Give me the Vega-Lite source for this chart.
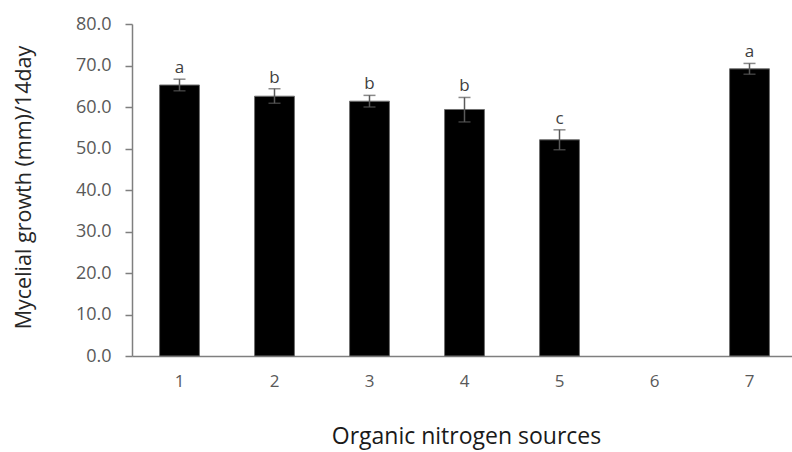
{
  "$schema": "https://vega.github.io/schema/vega-lite/v6.json",
  "autosize": {"type": "none"},
  "padding": {"left": 132, "top": 24, "right": 0, "bottom": 96},
  "width": 660,
  "height": 332,
  "background": "white",
  "config": {
    "view": {"stroke": null},
    "font": "Open Sans"
  },
  "data": {
    "values": [
      {"source": "1", "mean": 65.3, "lo": 63.9, "hi": 66.7, "letter": "a"},
      {"source": "2", "mean": 62.6, "lo": 60.9, "hi": 64.4, "letter": "b"},
      {"source": "3", "mean": 61.4, "lo": 60.0, "hi": 62.8, "letter": "b"},
      {"source": "4", "mean": 59.4, "lo": 56.4, "hi": 62.3, "letter": "b"},
      {"source": "5", "mean": 52.1, "lo": 49.7, "hi": 54.5, "letter": "c"},
      {"source": "6", "mean": 0, "lo": null, "hi": null, "letter": ""},
      {"source": "7", "mean": 69.2, "lo": 67.9, "hi": 70.5, "letter": "a"}
    ]
  },
  "encoding": {
    "x": {
      "field": "source",
      "type": "ordinal",
      "sort": null,
      "scale": {"domain": ["1", "2", "3", "4", "5", "6", "7"], "range": [0, 665], "paddingInner": 0.58, "paddingOuter": 0.29},
      "axis": {
        "title": "Organic nitrogen sources",
        "titleFont": "Open Sans",
        "titleFontSize": 23,
        "titleFontWeight": "normal",
        "titleColor": "#1a1a1a",
        "titleX": 334,
        "titleY": 87,
        "titleAlign": "center",
        "titleBaseline": "alphabetic",
        "labelAngle": 0,
        "labelFontSize": 17,
        "labelColor": "#595959",
        "labelPadding": 17,
        "ticks": false,
        "domainColor": "#7f7f7f",
        "domainWidth": 1.5
      }
    }
  },
  "layer": [
    {
      "transform": [{"filter": "datum.mean > 0"}],
      "mark": {"type": "bar", "color": "#000000", "stroke": "#6f6f6f", "strokeWidth": 1},
      "encoding": {
        "y": {
          "field": "mean",
          "type": "quantitative",
          "title": "Mycelial growth (mm)/14day",
          "scale": {"domain": [0, 80], "nice": false},
          "axis": {
            "titleFont": "Open Sans",
            "titleFontSize": 21.5,
            "titleFontWeight": "normal",
            "titleColor": "#262626",
            "titleX": -108,
            "titleY": 163,
            "titleAngle": -90,
            "titleAlign": "center",
            "titleBaseline": "middle",
            "values": [0, 10, 20, 30, 40, 50, 60, 70, 80],
            "format": ".1f",
            "labelFontSize": 18,
            "labelColor": "#595959",
            "labelPadding": 14,
            "tickSize": 7,
            "tickColor": "#7f7f7f",
            "tickWidth": 1.5,
            "domainColor": "#7f7f7f",
            "domainWidth": 1.5,
            "grid": false
          }
        }
      }
    },
    {
      "transform": [{"filter": "datum.hi != null"}],
      "mark": {"type": "errorbar", "ticks": {"size": 12, "color": "#595959", "thickness": 1.5}, "color": "#595959", "thickness": 1.5},
      "encoding": {
        "y": {"field": "lo", "type": "quantitative", "title": "Mycelial growth (mm)/14day"},
        "y2": {"field": "hi"}
      }
    },
    {
      "transform": [{"filter": "datum.hi != null"}],
      "mark": {"type": "text", "baseline": "alphabetic", "dy": -6, "fontSize": 17, "fill": "#404040"},
      "encoding": {
        "y": {"field": "hi", "type": "quantitative", "title": "Mycelial growth (mm)/14day"},
        "text": {"field": "letter"}
      }
    }
  ]
}
